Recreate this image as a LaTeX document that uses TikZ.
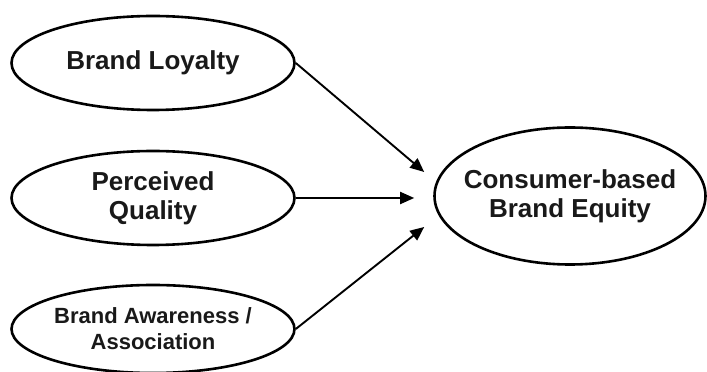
\documentclass[tikz,border=0pt]{standalone}
\usepackage{fontspec}
\setmainfont{Liberation Sans}
\usetikzlibrary{arrows.meta,shapes.geometric,calc,positioning}

\begin{document}
\begin{tikzpicture}[x=1pt, y=1pt,
		factor/.style={ellipse, draw, line width=2.6pt, inner sep=0pt,
			align=center, text=black!90, font=\bfseries\fontsize{26}{29}\selectfont},
		link/.style={line width=1.9pt, -{Triangle[length=14pt,width=12pt]}}]

		% === figure bounds ===
		\def\xmax{707}	\def\ymax{372}
		\useasboundingbox (0,0) rectangle (\xmax,\ymax);

		% === Ellipses ===
		\node[factor, minimum width=283pt, minimum height=94pt]  (loyalty)   at (153,309) {Brand Loyalty};
		\node[factor, minimum width=283pt, minimum height=94pt]  (quality)   at (153,174) {Perceived\\Quality};
		\node[factor, minimum width=283pt, minimum height=88pt,
			font=\bfseries\fontsize{22}{26}\selectfont]            (awareness) at (153,43)  {Brand Awareness /\\Association};
		\node[factor, minimum width=271pt, minimum height=137pt,
			inner xsep=-30pt]                                      (equity)    at (570,176) {Consumer-based\\Brand Equity};

		% === Arrow ends ===
		\coordinate (tipA) at ($(equity.west)+(-9,24)$);
		\coordinate (tipB) at ($(equity.west)+(-19,-2)$);
		\coordinate (tipC) at ($(equity.west)+(-9,-31)$);

		% === Arrows ===
		\draw[link] (loyalty.east)   -- (tipA);
		\draw[link] (quality.east)   -- (tipB);
		\draw[link] (awareness.east) -- (tipC);
	\end{tikzpicture}
\end{document}
